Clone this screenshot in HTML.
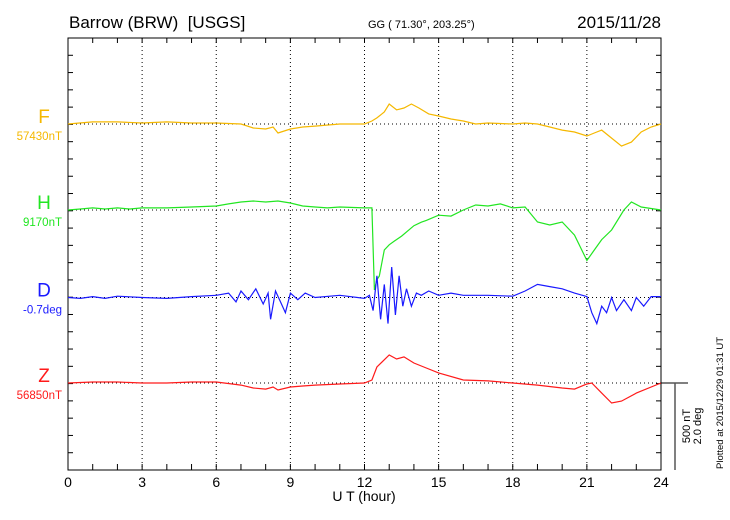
<!DOCTYPE html>
<html><head><meta charset="utf-8"><style>
body{margin:0;background:#fff;}
svg{display:block;font-family:"Liberation Sans",sans-serif;}
</style></head><body>
<svg id="c" width="730" height="520" viewBox="0 0 730 520">
<text x="69" y="28" font-size="17" style="white-space:pre">Barrow (BRW)  [USGS]</text>
<text x="368" y="28" font-size="11">GG ( 71.30°, 203.25°)</text>
<text x="661" y="28" font-size="17" text-anchor="end">2015/11/28</text>
<g id="grid"></g>
<g id="series"></g>
<text x="364" y="501" font-size="14" text-anchor="middle">U T (hour)</text>
<line x1="661" y1="383" x2="688" y2="383" stroke="#000"/>
<line x1="675" y1="383" x2="675" y2="470" stroke="#555" stroke-width="1.5"/>
<text transform="translate(690,426) rotate(-90)" font-size="11" text-anchor="middle">500 nT</text>
<text transform="translate(701,426) rotate(-90)" font-size="11" text-anchor="middle">2.0 deg</text>
<text transform="translate(723,469) rotate(-90)" font-size="9.5">Plotted at 2015/12/29 01:31  UT</text>
</svg>
<script>
const xTicks=[0,3,6,9,12,15,18,21,24];
const compNames=["F","H","D","Z"];
const compLabels=["57430nT","9170nT","-0.7deg","56850nT"];
const compColors=["#f5b800","#22e622","#1a1aff","#ff1a1a"];
const compBase=[124,210,297.5,383];
const fT=[0,1,2,3,4,5,6,7,7.5,8,8.3,8.5,9,9.5,10,11,12,12.3,12.5,12.8,13,13.3,13.6,13.9,14.2,14.6,15,15.5,16,16.5,17,18,18.5,19,19.5,20,20.5,21,21.3,21.6,22,22.4,22.8,23.2,23.6,24];
const fV=[0,12,12,6,12,6,6,0,-23,-29,-17,-52,-29,-17,-12,0,0,17,35,69,115,81,92,115,92,58,46,29,17,0,6,0,6,0,-17,-35,-46,-69,-52,-35,-81,-127,-104,-46,-17,0];
const hT=[0,0.5,1,1.5,2,2.5,3,4,5,6,6.5,7,7.5,8,8.5,9,9.5,10,10.5,11,12,12.3,12.4,12.5,12.6,12.8,13,13.2,13.5,14,14.3,14.5,15,15.5,16,16.5,17,17.5,18,18.5,19,19.5,20,20.5,21,21.3,21.6,22,22.5,22.8,23.2,24];
const hV=[0,6,12,6,12,6,12,12,17,23,35,46,52,46,52,40,23,17,12,17,12,12,-460,-400,-380,-230,-200,-180,-150,-90,-70,-60,-30,-35,0,29,23,35,12,17,-69,-86,-69,-144,-290,-230,-170,-115,0,46,17,0];
const dT=[0,0.5,1,1.5,2,3,4,5,6,6.5,6.8,7,7.3,7.6,7.9,8.1,8.2,8.4,8.6,8.8,9,9.3,9.6,10,11,12,12.2,12.35,12.5,12.65,12.8,12.95,13.1,13.25,13.4,13.55,13.7,13.9,14.1,14.3,14.6,15,15.5,16,17,18,18.5,19,19.5,20,20.5,21,21.2,21.4,21.6,21.8,22,22.2,22.5,22.8,23,23.3,23.6,24];
const dV=[0,-0.02,0.02,-0.02,0.03,0,-0.02,0.02,0.05,0.1,-0.1,0.15,-0.05,0.2,-0.15,0.1,-0.5,0.15,-0.1,-0.35,0.1,-0.05,0.1,0,0.05,-0.02,0.05,-0.3,0.5,-0.5,0.3,-0.6,0.7,-0.4,0.5,-0.2,0.2,-0.2,0.1,0.05,0.15,0.05,0.1,0.05,0.05,0.03,0.15,0.3,0.25,0.2,0.1,0.02,-0.35,-0.6,-0.2,-0.35,0,-0.3,-0.05,-0.3,0,-0.2,0.02,0.02];
const zT=[0,1,2,3,4,5,6,7,7.5,8,8.3,8.5,9,9.5,10,11,12,12.3,12.5,13,13.3,13.6,14,14.5,15,16,17,18,19,20,20.5,21,21.2,21.6,22,22.4,23,24];
const zV=[0,6,6,0,0,6,6,-12,-29,-35,-23,-40,-23,-17,-12,-6,0,17,92,161,138,150,115,86,58,17,12,0,-12,-29,-35,-6,0,-58,-115,-104,-58,0];
const X0=68,X1=661,Y0=38,Y1=470;
const ns="http://www.w3.org/2000/svg";
function xs(h){return X0+(X1-X0)*h/24;}
function ysNT(v,b){return b-v*87/500;}
function ysDeg(v,b){return b-v*87/2;}
function mk(t,a,p){const e=document.createElementNS(ns,t);for(const k in a)e.setAttribute(k,a[k]);p.appendChild(e);return e;}
const g=document.getElementById('grid');
const frame=mk('rect',{x:X0,y:Y0,width:X1-X0,height:Y1-Y0,fill:'none',stroke:'#000','stroke-width':1},g);


for(let h=0;h<=24;h++){
  const x=xs(h);
  mk('line',{x1:x,y1:Y0,x2:x,y2:Y0+5,stroke:'#000'},g);
  mk('line',{x1:x,y1:Y1,x2:x,y2:Y1-6,stroke:'#000'},g);
}
xTicks.forEach(h=>{
  const x=xs(h);
  if(h>0&&h<24){const l=mk('line',{x1:x,y1:Y0,x2:x,y2:Y1,stroke:'#000','stroke-dasharray':'1,3'},g);
  
  }
  const t=mk('text',{x:x,y:487,'font-size':14,'text-anchor':'middle'},g);t.textContent=h;
  
  
});
for(let i=1;i<25;i++){
  const y=Y0+(Y1-Y0)*i/25;
  mk('line',{x1:X0,y1:y,x2:X0+5,y2:y,stroke:'#000'},g);
  mk('line',{x1:X1,y1:y,x2:X1-5,y2:y,stroke:'#000'},g);
}
const s=document.getElementById('series');
const data=[[fT,fV,'nT'],[hT,hV,'nT'],[dT,dV,'deg'],[zT,zV,'nT']];
data.forEach((d,i)=>{
  const b=compBase[i],c=compColors[i];
  const bl=mk('line',{x1:X0,y1:b,x2:X1,y2:b,stroke:'#000','stroke-dasharray':'1,3'},s);
  
  
  const pts=d[0].map((t,j)=>xs(t).toFixed(1)+','+(d[2]==='deg'?ysDeg(d[1][j],b):ysNT(d[1][j],b)).toFixed(1)).join(' ');
  const pl=mk('polyline',{points:pts,fill:'none',stroke:c,'stroke-width':1.2},s);
  
  
  const t1=mk('text',{x:44,y:b-1,'font-size':19,'text-anchor':'middle',fill:c},s);t1.textContent=compNames[i];
  
  
  const t2=mk('text',{x:62,y:b+16,'font-size':11.5,'text-anchor':'end',fill:c},s);t2.textContent=compLabels[i];
  
  
});
</script>
</body></html>
